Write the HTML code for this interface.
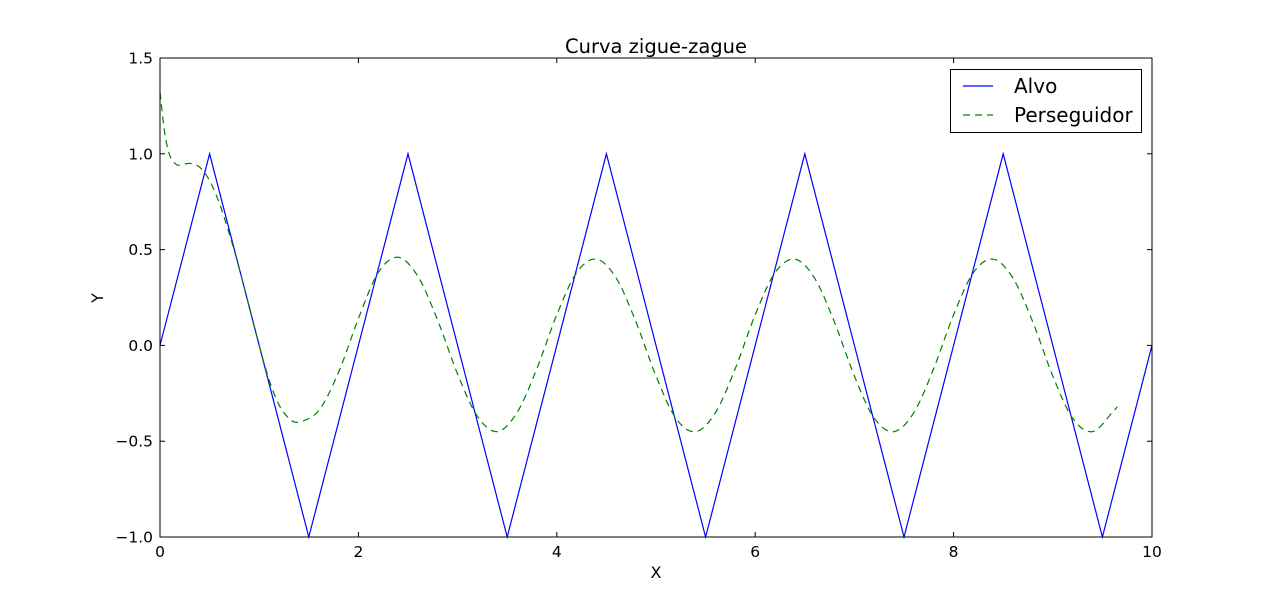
<!DOCTYPE html>
<html><head><meta charset="utf-8"><style>
body{margin:0;background:#fff;}
svg text{font-family:"DejaVu Sans","Liberation Sans",sans-serif;fill:#000;}
</style></head><body>
<svg width="1280" height="597" viewBox="0 0 1280 597">
<g id="plot"></g>
</svg>
<script>
const xTicks=[0,2,4,6,8,10];
const yTicks=[-1.0,-0.5,0.0,0.5,1.0,1.5];
const alvoX=[0,0.5,1.5,2.5,3.5,4.5,5.5,6.5,7.5,8.5,9.5,10];
const alvoY=[0,1,-1,1,-1,1,-1,1,-1,1,-1,0];
const persX=[0,0.05,0.1,0.15,0.2,0.3,0.4,0.5,0.6,0.7,0.8,0.9,1.0,1.1,1.2,1.3,1.4,1.6,1.8,2.0,2.2,2.4,2.6,2.8,3.0,3.2,3.4,3.6,3.8,4.0,4.2,4.4,4.6,4.8,5.0,5.2,5.4,5.6,5.8,6.0,6.2,6.4,6.6,6.8,7.0,7.2,7.4,7.6,7.8,8.0,8.2,8.4,8.6,8.8,9.0,9.2,9.4,9.6,9.65];
const persY=[1.32,1.1,0.99,0.95,0.94,0.95,0.93,0.86,0.74,0.58,0.4,0.2,0.0,-0.18,-0.31,-0.38,-0.40,-0.34,-0.14,0.14,0.38,0.46,0.36,0.13,-0.15,-0.37,-0.45,-0.35,-0.12,0.16,0.38,0.45,0.35,0.12,-0.16,-0.38,-0.45,-0.35,-0.12,0.16,0.38,0.45,0.35,0.12,-0.16,-0.38,-0.45,-0.35,-0.12,0.16,0.38,0.45,0.35,0.12,-0.16,-0.38,-0.45,-0.35,-0.32];
const L=160,R=1152,T=58,B=537;
const sx=v=>L+(v-0)/(10-0)*(R-L);
const sy=v=>B-(v+1)/(2.5)*(B-T);
const NS='http://www.w3.org/2000/svg';
const g=document.getElementById('plot');
function mk(t,a,txt){const e=document.createElementNS(NS,t);for(const k in a)e.setAttribute(k,a[k]);if(txt!==undefined)e.textContent=txt;g.appendChild(e);return e;}
let d=alvoX.map((x,i)=>(i?'L':'M')+sx(x).toFixed(2)+','+sy(alvoY[i]).toFixed(2)).join('');
let p1=mk('path',{d:d,fill:'none',stroke:'#0000ff','stroke-width':1.2});


let pts=persX.map((x,i)=>[sx(x),sy(persY[i])]);
let d2='M'+pts[0][0]+','+pts[0][1];
for(let i=0;i<pts.length-1;i++){const p0=pts[Math.max(0,i-1)],a=pts[i],b=pts[i+1],p3=pts[Math.min(pts.length-1,i+2)];
const c1=[a[0]+(b[0]-p0[0])/6,a[1]+(b[1]-p0[1])/6],c2=[b[0]-(p3[0]-a[0])/6,b[1]-(p3[1]-a[1])/6];
d2+='C'+c1.join(',')+' '+c2.join(',')+' '+b.join(',');}
let p2=mk('path',{d:d2,fill:'none',stroke:'#008000','stroke-width':1.2,'stroke-dasharray':'7,5'});


let fr=mk('rect',{x:L,y:T,width:R-L,height:B-T,fill:'none',stroke:'#000','stroke-width':1});


xTicks.forEach(v=>{const x=sx(v);
mk('line',{x1:x,x2:x,y1:B,y2:B-5,stroke:'#000'});mk('line',{x1:x,x2:x,y1:T,y2:T+5,stroke:'#000'});
const t=mk('text',{x:x,y:B+20,'text-anchor':'middle','font-size':15.5},String(v));

});
yTicks.forEach(v=>{const y=sy(v);
mk('line',{x1:L,x2:L+5,y1:y,y2:y,stroke:'#000'});mk('line',{x1:R,x2:R-5,y1:y,y2:y,stroke:'#000'});
const t=mk('text',{x:L-7,y:y+5.5,'text-anchor':'end','font-size':15.5},(v<0?'\u2212':'')+Math.abs(v).toFixed(1));

});
let tt=mk('text',{x:656,y:53,'text-anchor':'middle','font-size':19.5},'Curva zigue-zague');


let xl=mk('text',{x:656,y:578,'text-anchor':'middle','font-size':16},'X');


let yl=mk('text',{x:103,y:298,'text-anchor':'middle','font-size':16,transform:'rotate(-90 103 298)'},'Y');


let lg=mk('rect',{x:950.5,y:69.5,width:191,height:63,fill:'#fff',stroke:'#000'});


mk('line',{x1:963,x2:993,y1:86,y2:86,stroke:'#0000ff','stroke-width':1.2});
mk('line',{x1:963,x2:993,y1:115,y2:115,stroke:'#008000','stroke-width':1.2,'stroke-dasharray':'7,5'});
let le1=mk('text',{x:1014,y:93,'font-size':20},'Alvo');


let le2=mk('text',{x:1014,y:122,'font-size':20},'Perseguidor');


</script>
</body></html>
